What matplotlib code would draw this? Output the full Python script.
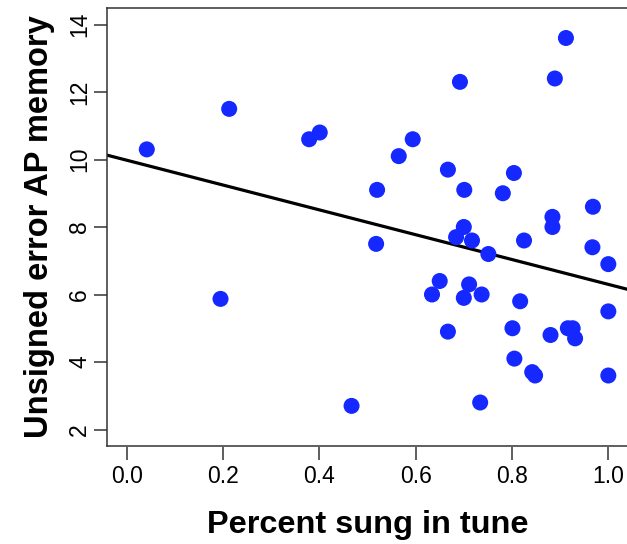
import matplotlib
matplotlib.use("Agg")
import matplotlib.pyplot as plt

# Data
pct_in_tune = [0.042, 0.213, 0.379, 0.401, 0.195, 0.467, 0.518, 0.520, 0.565, 0.594,
               0.667, 0.692, 0.701, 0.781, 0.804, 0.889, 0.912, 0.884, 0.884, 0.968,
               0.700, 0.684, 0.717, 0.751, 0.825, 0.967, 1.000, 0.650, 0.634, 0.711,
               0.700, 0.737, 0.817, 1.000, 0.667, 0.801, 0.880, 0.916, 0.926, 0.931,
               0.805, 0.842, 0.848, 1.000, 0.734]
error_ap = [10.3, 11.5, 10.6, 10.8, 5.87, 2.7, 7.5, 9.1, 10.1, 10.6,
            9.7, 12.3, 9.1, 9.0, 9.6, 12.4, 13.6, 8.3, 8.0, 8.6,
            8.0, 7.7, 7.6, 7.2, 7.6, 7.4, 6.9, 6.4, 6.0, 6.3,
            5.9, 6.0, 5.8, 5.5, 4.9, 5.0, 4.8, 5.0, 5.0, 4.7,
            4.1, 3.7, 3.6, 3.6, 2.8]
fit_intercept = 9.98
fit_slope = -3.68
x_ticks = [0.0, 0.2, 0.4, 0.6, 0.8, 1.0]
x_ticklabels = ["0.0", "0.2", "0.4", "0.6", "0.8", "1.0"]
y_ticks = [2, 4, 6, 8, 10, 12, 14]
y_ticklabels = ["2", "4", "6", "8", "10", "12", "14"]

plt.rcParams['font.family'] = ['Liberation Sans', 'DejaVu Sans']

fig = plt.figure(figsize=(6.27, 5.44), dpi=100)
ax = fig.add_axes([107.3 / 627, (544 - 445.7) / 544, (627.6 - 107.3) / 627, (445.7 - 8.3) / 544])

ax.scatter(pct_in_tune, error_ap, s=133, color='#1428ff', edgecolors='none', zorder=3)
ax.axline((0, fit_intercept), slope=fit_slope, color='black', lw=2.3, zorder=2)

ax.set_xlim(-0.04, 1.04)
ax.set_ylim(1.52, 14.48)

for sp in ax.spines.values():
    sp.set_linewidth(1.1)
    sp.set_color('#333333')

# y axis ticks
ax.set_yticks(y_ticks)
ax.set_yticklabels(y_ticklabels, rotation=90, va='center', fontsize=16.5)
ax.tick_params(axis='y', length=9.5, width=1.1, color='#333333', pad=2)

# x axis: detached ticks via secondary axis
ax.set_xticks([])
sec = ax.secondary_xaxis(-0.004)
sec.spines['bottom'].set_visible(False)
sec.set_xticks(x_ticks)
sec.set_xticklabels(x_ticklabels, fontsize=16.5)
sec.tick_params(axis='x', length=9.5, width=1.1, color='#333333', pad=3)

fig.text(0.5 * (207 + 528) / 627, 1 - 525 / 544, "Percent sung in tune", ha='center', va='center',
         fontsize=23.4, fontweight='bold')
fig.text(40 / 627, 1 - 227 / 544, "Unsigned error AP memory", ha='center', va='center',
         rotation=90, fontsize=23.5, fontweight='bold')

fig.savefig("out.png", dpi=100)
